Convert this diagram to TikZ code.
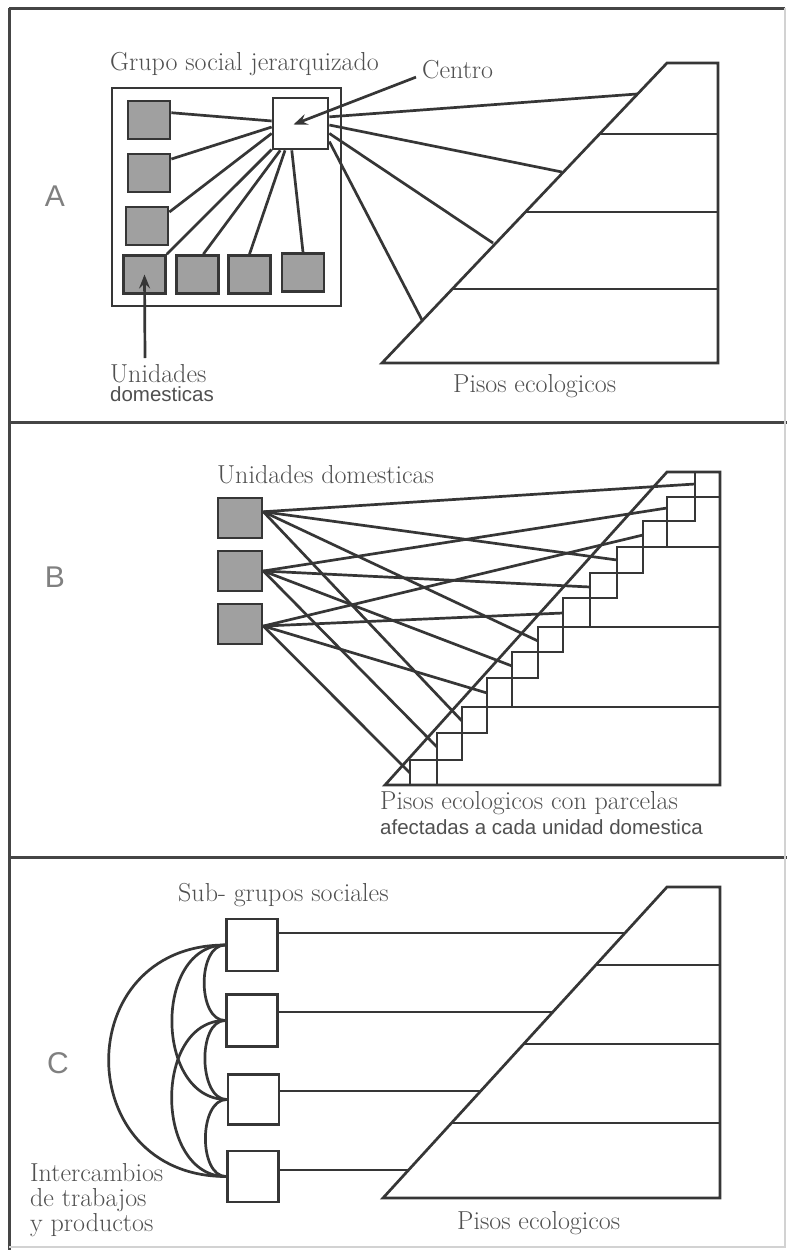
\documentclass[tikz,border=0pt]{standalone}
\usepackage{fontspec}
\newfontfamily\sansf{Liberation Sans}
\usetikzlibrary{arrows.meta}
\definecolor{ink}{HTML}{363636}
\definecolor{txt}{HTML}{505050}
\definecolor{boxgray}{HTML}{A0A0A0}
\definecolor{framec}{HTML}{454545}
\tikzset{
  ln/.style={draw=ink, line width=2.7pt},
  frameln/.style={draw=framec, line width=3pt},
  unitbox/.style={draw=ink, line width=2.7pt, fill=boxgray, minimum width=42pt, minimum height=38pt, inner sep=0pt},
  whitebox/.style={draw=ink, line width=2.7pt, fill=white, inner sep=0pt},
  seriflbl/.style={font=\fontsize{26}{28}\selectfont, text=txt, inner sep=0pt},
  sanslbl/.style={font=\sansf\fontsize{20.5}{22}\selectfont, text=txt, inner sep=0pt},
  panellbl/.style={font=\sansf\fontsize{30}{30}\selectfont, text=gray, inner sep=0pt},
  arr/.style={ln, -{Stealth[length=14pt, width=11pt, inset=5pt]}}
}
\begin{document}
\begin{tikzpicture}[x=1pt, y=-1pt]
\useasboundingbox (0,0) rectangle (787,1250);
\fill[white] (0,0) rectangle (787,1250);
% ---------- frame ----------
\draw[frameln] (9,8) -- (785,8);
\draw[frameln] (9,8) -- (9,1250);
\draw[frameln] (9,422) -- (787,422);
\draw[frameln] (9,857) -- (787,857);
\draw[draw=gray!35, line width=1.5pt] (785,8) -- (785,1247) -- (9,1247);

% ================= PANEL A =================
\node[panellbl] (la) at (55,196) {A};
\node[seriflbl, anchor=base west] (grupolbl) at (110,70) {Grupo social jerarquizado};
\node[draw=ink, line width=2.7pt, minimum width=229pt, minimum height=218pt, inner sep=0pt] (grupo) at (226.5,197) {};
\node[unitbox] (a1) at (149,120) {};
\node[unitbox] (a2) at (149,173) {};
\node[unitbox] (a3) at (147,226) {};
\node[unitbox] (a4) at (144.5,274.5) {};
\node[unitbox] (a5) at (197.5,274.5) {};
\node[unitbox] (a6) at (249.5,274.5) {};
\node[unitbox] (a7) at (303,272.5) {};
\node[whitebox, minimum width=55pt, minimum height=51pt] (centro) at (300.5,123.5) {};
\draw[ln] (a1.18) -- (centro.175);
\draw[ln] (a2.32) -- (centro.187);
\draw[ln] (a3.32) -- (centro.199);
\draw[ln] (a4.north east) -- (centro.222);
\draw[ln] (a5.74) -- (centro.233);
\draw[ln] (a6.north) -- (centro.240);
\draw[ln] (a7.north) -- (centro.252);
% terrace A
\draw[ln, line join=miter] (382,363) -- (667,63) -- (718,63) -- (718,363) -- cycle;
\draw[ln] (599.5,134) -- (718,134);
\draw[ln] (525.5,212) -- (718,212);
\draw[ln] (452.3,289) -- (718,289);
\coordinate (pa1) at (637,94);
\coordinate (pa2) at (562,172);
\coordinate (pa3) at (493,243);
\coordinate (pa4) at (422,320);
\draw[ln] (centro.13) -- (pa1);
\draw[ln] (centro.-3) -- (pa2);
\draw[ln] (centro.-19) -- (pa3);
\draw[ln] (centro.-32) -- (pa4);
% labels and arrows
\node[seriflbl, anchor=base west] (centrolbl) at (422,78) {Centro};
\draw[arr] ([xshift=-6pt,yshift=-8pt]centrolbl.west) -- ([xshift=-7pt,yshift=-1pt]centro.center);
\node[seriflbl, anchor=base west, text depth=0pt] (ulbl) at (110,382) {Unidades};
\node[sanslbl, anchor=base west] (dlbl) at (110,401) {domesticas};
\coordinate (ustart) at (145,358);
\draw[arr] (ustart) -- (a4.center);
\node[seriflbl, anchor=base west] (pisosA) at (453,392) {Pisos ecologicos};

% ================= PANEL B =================
\node[panellbl] (lb) at (55,577) {B};
\node[seriflbl, anchor=base west] (ublbl) at (217,483) {Unidades domesticas};
% terrace B
\draw[ln, line join=miter] (385,785) -- (667,472) -- (720,472) -- (720,785) -- cycle;
\draw[ln] (695,472) -- (695,521) -- (643,521) -- (643,573) -- (590,573) -- (590,627) -- (538,627) -- (538,678) -- (487,678) -- (487,733) -- (437,733) -- (437,785);
\draw[ln] (720,497) -- (667,497) -- (667,547) -- (617,547) -- (617,598) -- (563,598) -- (563,652) -- (512,652) -- (512,707) -- (462,707) -- (462,760) -- (410,760) -- (410,785);
\draw[ln] (617,547) -- (720,547);
\draw[ln] (590,627) -- (720,627);
\draw[ln] (462,707) -- (720,707);
% parcel targets
\coordinate (t0) at (695,484);
\coordinate (t1) at (667,508);
\coordinate (t2) at (643,535);
\coordinate (t3) at (617,560);
\coordinate (t4) at (590,587);
\coordinate (t5) at (563,613);
\coordinate (t6) at (538,641);
\coordinate (t7) at (512,666);
\coordinate (t8) at (487,693);
\coordinate (t9) at (462,721);
\coordinate (t10) at (437,747);
\coordinate (t11) at (410,773);
\node[unitbox, minimum width=44pt, minimum height=40pt] (b1) at (240,518) {};
\node[unitbox, minimum width=44pt, minimum height=40pt] (b2) at (240,571) {};
\node[unitbox, minimum width=44pt, minimum height=40pt] (b3) at (240,624) {};
\foreach \t in {t0,t3,t6,t9} \draw[ln] (b1.15) -- (\t);
\foreach \t in {t1,t4,t7,t10} \draw[ln] (b2.east) -- (\t);
\foreach \t in {t2,t5,t8,t11} \draw[ln] (b3.-5) -- (\t);
\node[seriflbl, anchor=base west] (capB1) at (380,809) {Pisos ecologicos con parcelas};
\node[sanslbl, anchor=base west] (capB2) at (380,834) {afectadas a cada unidad domestica};

% ================= PANEL C =================
\node[panellbl] (lc) at (58,1063) {C};
\node[seriflbl, anchor=base west] (sglbl) at (178,901) {Sub- grupos sociales};
\draw[ln, line join=miter] (383,1198) -- (667,887) -- (720,887) -- (720,1198) -- cycle;
\draw[ln] (595.8,965) -- (720,965);
\draw[ln] (523.6,1044) -- (720,1044);
\draw[ln] (451.5,1123) -- (720,1123);
\node[whitebox, minimum width=51pt, minimum height=52pt] (c1) at (252,945) {};
\node[whitebox, minimum width=51pt, minimum height=52pt] (c2) at (252,1020.5) {};
\node[whitebox, minimum width=51pt, minimum height=50pt] (c3) at (253.5,1099.5) {};
\node[whitebox, minimum width=51pt, minimum height=51pt] (c4) at (253,1176.5) {};
\coordinate (pc1) at (625,933);
\coordinate (pc2) at (553,1012);
\coordinate (pc3) at (481,1091);
\coordinate (pc4) at (408.6,1170);
\draw[ln] (c1.east |- pc1) -- (pc1);
\draw[ln] (c2.east |- pc2) -- (pc2);
\draw[ln] (c3.east |- pc3) -- (pc3);
\draw[ln] (c4.east |- pc4) -- (pc4);
% exchange arcs
\draw[ln] (c1.west) .. controls +(-28,0) and +(-28,0) .. (c2.west);
\draw[ln] (c2.west) .. controls +(-28,0) and +(-28,0) .. (c3.west);
\draw[ln] (c3.west) .. controls +(-28,0) and +(-28,0) .. (c4.west);
\draw[ln] (c1.west) .. controls +(-72,0) and +(-72,0) .. (c3.west);
\draw[ln] (c2.west) .. controls +(-72,0) and +(-72,0) .. (c4.west);
\draw[ln] (c1.west) .. controls +(-156,0) and +(-156,0) .. (c4.west);
\node[seriflbl, anchor=base west] (ilbl1) at (30,1181) {Intercambios};
\node[seriflbl, anchor=base west] (ilbl2) at (30,1206) {de trabajos};
\node[seriflbl, anchor=base west] (ilbl3) at (30,1231) {y productos};
\node[seriflbl, anchor=base west] (pisosC) at (457,1229) {Pisos ecologicos};
\end{tikzpicture}
\end{document}
